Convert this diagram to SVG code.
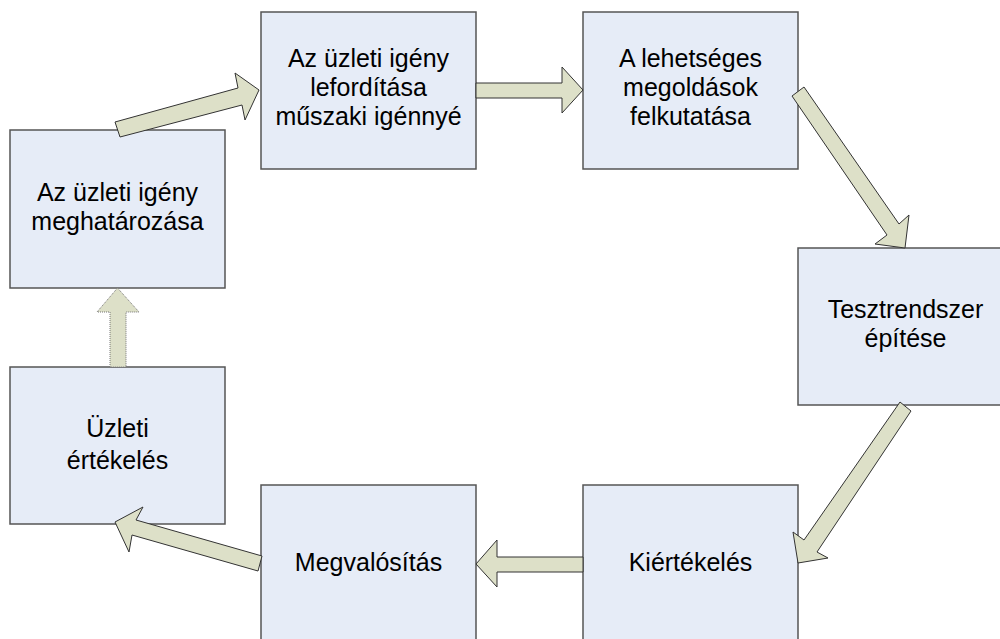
<svg xmlns="http://www.w3.org/2000/svg" width="1000" height="639" viewBox="0 0 1000 639">
  <style>
    .box { fill: #e6ecf7; stroke: #555555; stroke-width: 1.5; }
    .lbl { font-family: "Liberation Sans", Arial, sans-serif; font-size: 25px; fill: #000000; text-anchor: middle; }
    .arrow { fill: #dde0c8; stroke: #333333; stroke-width: 1; stroke-linejoin: miter; }
    .arrow-dotted { fill: #dde0c8; stroke: #777777; stroke-width: 1; stroke-dasharray: 1 1; }
  </style>
  <rect width="1000" height="639" fill="#ffffff"/>

  <!-- process steps -->
  <g id="node-igeny-meghatarozasa">
    <rect class="box" x="10" y="130" width="215" height="158"/>
    <text class="lbl" x="117.5"><tspan x="117.5" y="201">Az üzleti igény</tspan><tspan x="117.5" y="230">meghatározása</tspan></text>
  </g>
  <g id="node-igeny-leforditasa">
    <rect class="box" x="261" y="12" width="215" height="157"/>
    <text class="lbl"><tspan x="368.5" y="67">Az üzleti igény</tspan><tspan x="368.5" y="96">lefordítása</tspan><tspan x="368.5" y="125">műszaki igénnyé</tspan></text>
  </g>
  <g id="node-megoldasok">
    <rect class="box" x="583" y="12" width="215" height="157"/>
    <text class="lbl"><tspan x="690.5" y="67">A lehetséges</tspan><tspan x="690.5" y="96">megoldások</tspan><tspan x="690.5" y="125">felkutatása</tspan></text>
  </g>
  <g id="node-tesztrendszer">
    <rect class="box" x="798" y="248" width="215" height="157"/>
    <text class="lbl"><tspan x="905.5" y="318">Tesztrendszer</tspan><tspan x="905.5" y="347">építése</tspan></text>
  </g>
  <g id="node-kiertekeles">
    <rect class="box" x="583" y="485" width="215" height="160"/>
    <text class="lbl" x="690.5" y="571">Kiértékelés</text>
  </g>
  <g id="node-megvalositas">
    <rect class="box" x="261" y="485" width="215" height="160"/>
    <text class="lbl" x="368.5" y="571">Megvalósítás</text>
  </g>
  <g id="node-uzleti-ertekeles">
    <rect class="box" x="10" y="367" width="215" height="157"/>
    <text class="lbl"><tspan x="117.5" y="437">Üzleti</tspan><tspan x="117.5" y="469">értékelés</tspan></text>
  </g>

  <!-- block arrows between the steps -->
  <g id="connectors">
    <polygon class="arrow" points="115,122 238,88 235,73 259,90 245,120 242,105 120,137"/>
    <polygon class="arrow" points="476,83 562,83 562,67 583,90 562,113 562,98 476,98"/>
    <polygon class="arrow" points="804,87 899,224 909,215 905,248 875,244 887,235 792,96"/>
    <polygon class="arrow" points="900,402 911,411 817,552 828,558 798,563 793,532 804,540"/>
    <polygon class="arrow" points="583,557 497,557 497,540 476,564 497,587 497,572 583,572"/>
    <polygon class="arrow" points="262,556 136,520 143,507 115,522 129,552 132,535 258,571"/>
    <polygon class="arrow-dotted" points="110,367 110,312 97,312 117.5,288 139,312 126,312 126,367"/>
  </g>
</svg>
